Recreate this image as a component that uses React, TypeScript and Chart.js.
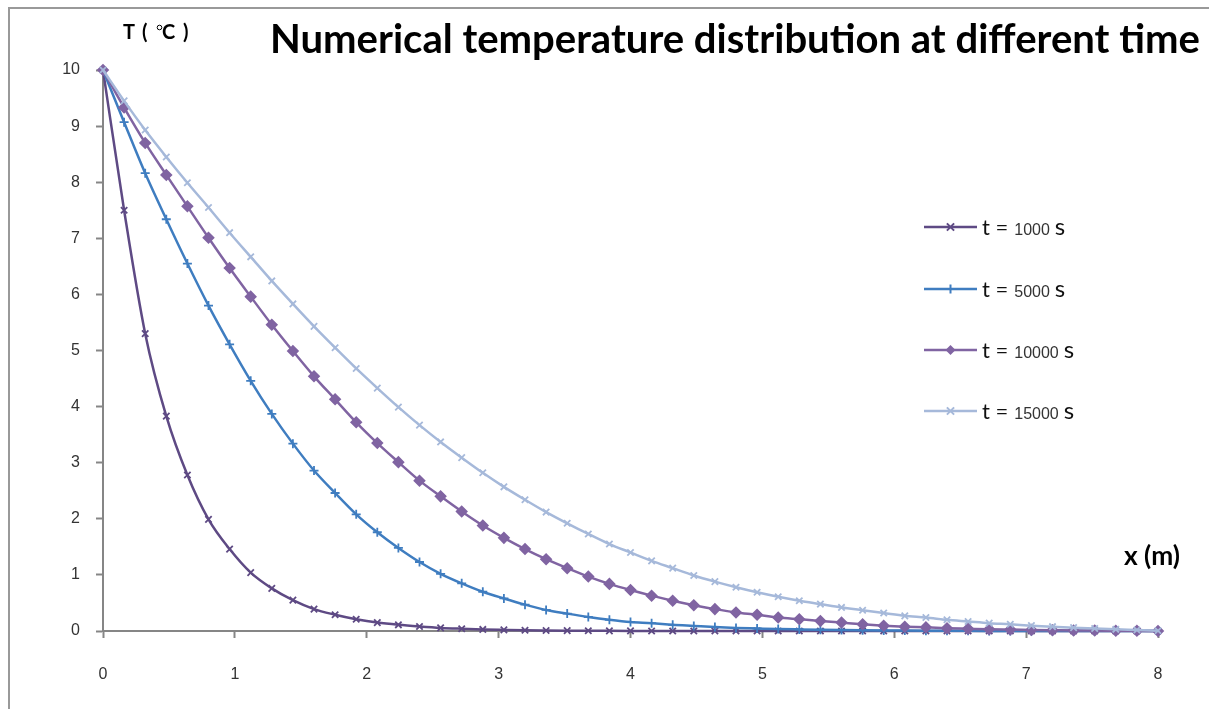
import React, { useEffect, useRef } from "react";
import { Chart, registerables } from "chart.js";

Chart.register(...registerables);

// ---- data ----
const xValues = [
  0, 0.16, 0.32, 0.48, 0.64, 0.8, 0.96, 1.12, 1.28, 1.44, 1.6, 1.76, 1.92, 2.08, 2.24, 2.4, 2.56,
  2.72, 2.88, 3.04, 3.2, 3.36, 3.52, 3.68, 3.84, 4, 4.16, 4.32, 4.48, 4.64, 4.8, 4.96, 5.12, 5.28,
  5.44, 5.6, 5.76, 5.92, 6.08, 6.24, 6.4, 6.56, 6.72, 6.88, 7.04, 7.2, 7.36, 7.52, 7.68, 7.84, 8,
];

const temp1000 = [
  10, 7.5, 5.3, 3.83, 2.78, 1.99, 1.46, 1.04, 0.76, 0.55, 0.39, 0.29, 0.21, 0.15, 0.11, 0.08, 0.055,
  0.04, 0.028, 0.02, 0.013, 0.009, 0.006, 0.004, 0.003, 0.002, 0.001, 0.001, 0, 0, 0, 0, 0, 0, 0,
  0, 0, 0, 0, 0, 0, 0, 0, 0, 0, 0, 0, 0, 0, 0, 0,
];

const temp5000 = [
  10, 9.07, 8.16, 7.34, 6.55, 5.8, 5.11, 4.46, 3.87, 3.34, 2.86, 2.46, 2.08, 1.76, 1.48, 1.23, 1.02,
  0.85, 0.7, 0.58, 0.47, 0.375, 0.31, 0.25, 0.2, 0.16, 0.14, 0.11, 0.09, 0.07, 0.055, 0.045, 0.035,
  0.028, 0.022, 0.017, 0.013, 0.01, 0.008, 0.006, 0.004, 0.003, 0.002, 0.002, 0.001, 0, 0, 0, 0, 0, 0,
];

const temp10000 = [
  10, 9.33, 8.7, 8.13, 7.57, 7.01, 6.47, 5.96, 5.46, 4.99, 4.54, 4.13, 3.72, 3.35, 3.01, 2.68, 2.4,
  2.13, 1.88, 1.66, 1.46, 1.28, 1.12, 0.97, 0.84, 0.73, 0.63, 0.54, 0.46, 0.39, 0.33, 0.29, 0.24,
  0.21, 0.18, 0.15, 0.12, 0.095, 0.077, 0.066, 0.05, 0.04, 0.03, 0.025, 0.02, 0.015, 0.01, 0.008,
  0.005, 0.003, 0,
];

const temp15000 = [
  10, 9.45, 8.93, 8.45, 7.99, 7.55, 7.1, 6.67, 6.24, 5.83, 5.43, 5.05, 4.68, 4.33, 3.99, 3.67, 3.37,
  3.09, 2.82, 2.57, 2.34, 2.12, 1.92, 1.73, 1.55, 1.4, 1.25, 1.12, 0.99, 0.88, 0.78, 0.69, 0.61,
  0.54, 0.48, 0.42, 0.37, 0.32, 0.27, 0.24, 0.2, 0.17, 0.14, 0.12, 0.095, 0.077, 0.06, 0.045, 0.03,
  0.018, 0.005,
];

const timeLabels = ["1000", "5000", "10000", "15000"];
const xTickValues = [0, 1, 2, 3, 4, 5, 6, 7, 8];
const yTickValues = [0, 1, 2, 3, 4, 5, 6, 7, 8, 9, 10];

const titleText = "Numerical temperature distribution at different time";
const xTitleText = "x (m)";

// ---- styles ----
const colors = ["#5E4A84", "#3F7DC0", "#8064A2", "#A6B9DA"];
const markers = ["crossRot", "cross", "rectRot", "crossRot"];
const markerRadius = [4.5, 4.5, 5, 4.5];
const AXIS = "#868686";

function toPoints(ys: number[]) {
  return xValues.map((x, i) => ({ x, y: ys[i] }));
}

function drawMarker(ctx: CanvasRenderingContext2D, kind: string, x: number, y: number, r: number, color: string) {
  ctx.save();
  ctx.strokeStyle = color;
  ctx.fillStyle = color;
  ctx.lineWidth = 2;
  ctx.beginPath();
  if (kind === "crossRot") {
    const d = r * 0.8;
    ctx.moveTo(x - d, y - d);
    ctx.lineTo(x + d, y + d);
    ctx.moveTo(x + d, y - d);
    ctx.lineTo(x - d, y + d);
    ctx.stroke();
  } else if (kind === "cross") {
    ctx.moveTo(x, y - r);
    ctx.lineTo(x, y + r);
    ctx.stroke();
  } else if (kind === "rectRot") {
    ctx.moveTo(x, y - r);
    ctx.lineTo(x + r, y);
    ctx.lineTo(x, y + r);
    ctx.lineTo(x - r, y);
    ctx.closePath();
    ctx.fill();
  }
  ctx.restore();
}

function fitFont(ctx: CanvasRenderingContext2D, text: string, weight: string, family: string, width: number) {
  ctx.font = `${weight} 100px ${family}`;
  const w = ctx.measureText(text).width;
  return (100 * width) / w;
}

const textPlugin = {
  id: "textPlugin",
  afterDraw(chart: any) {
    const ctx: CanvasRenderingContext2D = chart.ctx;
    ctx.save();
    ctx.fillStyle = "#000";
    ctx.textBaseline = "alphabetic";
    ctx.textAlign = "left";

    // main title
    const ts = fitFont(ctx, titleText, "bold", "Lato", 930);
    ctx.font = `bold ${ts}px Lato`;
    ctx.fillText(titleText, 270, 53);

    // y axis title  "T ( °C )"
    ctx.font = "bold 20px Lato";
    ctx.fillText("T", 123, 39);
    ctx.fillText("(", 142, 39);
    ctx.fillText("C", 162, 39);
    ctx.fillText(")", 183, 39);
    ctx.strokeStyle = "#000";
    ctx.lineWidth = 1;
    ctx.beginPath();
    ctx.arc(159.5, 27.5, 2.3, 0, Math.PI * 2);
    ctx.stroke();

    // x axis title
    const xs = fitFont(ctx, xTitleText, "bold", "Lato", 56);
    ctx.font = `bold ${xs}px Lato`;
    ctx.fillText(xTitleText, 1124, 565);

    // legend
    const rowsY = [227, 289, 350, 411];
    chart.data.datasets.forEach((ds: any, i: number) => {
      const cy = rowsY[i];
      ctx.strokeStyle = ds.borderColor;
      ctx.lineWidth = 2.5;
      ctx.beginPath();
      ctx.moveTo(924, cy);
      ctx.lineTo(977, cy);
      ctx.stroke();
      drawMarker(ctx, markers[i], 950.5, cy, markerRadius[i], ds.borderColor);

      let x = 982;
      ctx.fillStyle = "#111";
      ctx.font = "22px Lato";
      ctx.fillText("t =", x, cy + 8);
      x += ctx.measureText("t =").width + 6;
      ctx.fillStyle = "#333";
      ctx.font = "16px 'Liberation Sans'";
      ctx.fillText(timeLabels[i], x, cy + 8);
      x += ctx.measureText(timeLabels[i]).width + 5;
      ctx.fillStyle = "#111";
      ctx.font = "24px Lato";
      ctx.fillText("s", x, cy + 8);
    });
    ctx.restore();
  },
};

export default function App() {
  const canvasRef = useRef<HTMLCanvasElement | null>(null);

  useEffect(() => {
    if (!canvasRef.current) return;
    const series = [temp1000, temp5000, temp10000, temp15000];
    const chart = new Chart(canvasRef.current, {
      type: "line",
      data: {
        datasets: series.map((ys, i) => ({
          label: `t = ${timeLabels[i]} s`,
          data: toPoints(ys),
          borderColor: colors[i],
          backgroundColor: colors[i],
          borderWidth: 2.5,
          pointStyle: markers[i] as any,
          pointRadius: markerRadius[i],
          pointBorderWidth: 1.8,
          pointBackgroundColor: colors[i],
          pointBorderColor: colors[i],
          cubicInterpolationMode: "monotone" as const,
          tension: 0.4,
          clip: false as any,
          order: 3 - i,
        })),
      },
      options: {
        responsive: false,
        animation: false,
        layout: { padding: { left: 0, right: 51, top: 70, bottom: 0 } },
        plugins: {
          legend: { display: false },
          tooltip: { enabled: false },
          title: { display: false },
        },
        scales: {
          x: {
            type: "linear",
            min: 0,
            max: 8,
            afterBuildTicks: (scale: any) => {
              scale.ticks = xTickValues.map((v) => ({ value: v }));
            },
            afterFit: (scale: any) => {
              scale.height = 78;
            },
            ticks: {
              color: "#333",
              font: { family: "'Liberation Sans', Arial, sans-serif", size: 16 },
              padding: 27,
              maxRotation: 0,
            },
            grid: {
              drawOnChartArea: false,
              drawTicks: true,
              tickLength: 7,
              tickColor: AXIS,
              tickWidth: 2,
              color: AXIS,
            },
            border: { color: AXIS, width: 2 },
          },
          y: {
            type: "linear",
            min: 0,
            max: 10,
            afterBuildTicks: (scale: any) => {
              scale.ticks = yTickValues.map((v) => ({ value: v }));
            },
            afterFit: (scale: any) => {
              scale.width = 103;
            },
            ticks: {
              color: "#333",
              font: { family: "'Liberation Sans', Arial, sans-serif", size: 16 },
              padding: 16,
            },
            grid: {
              drawOnChartArea: false,
              drawTicks: true,
              tickLength: 7,
              tickColor: AXIS,
              tickWidth: 2,
              color: AXIS,
            },
            border: { color: AXIS, width: 2 },
          },
        },
      },
      plugins: [textPlugin],
    });
    return () => chart.destroy();
  }, []);

  return (
    <>
      <div
        style={{
          position: "fixed",
          left: 8,
          top: 7,
          width: 1400,
          height: 900,
          borderLeft: "2px solid #999",
          borderTop: "2px solid #999",
          boxSizing: "border-box",
        }}
      />
      <canvas
        ref={canvasRef}
        width={1209}
        height={709}
        style={{ position: "fixed", left: 0, top: 0, width: 1209, height: 709, display: "block" }}
      />
    </>
  );
}
